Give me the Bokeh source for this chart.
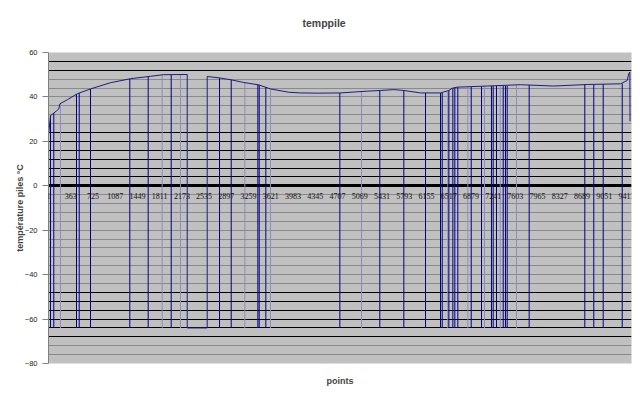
from bokeh.plotting import figure
from bokeh.models import Range1d, FixedTicker, Title, LabelSet, ColumnDataSource
from bokeh.embed import file_html
from bokeh.resources import INLINE

# ---- data ----
# base temperature curve (point index, °C)
curve_pt = [1, 6, 34, 87, 169, 185, 306, 468, 685, 1011, 1336, 1662, 1873, 2260,
            2260, 2585, 2585, 2774, 2976, 3181, 3426, 3616, 3914, 4105, 4377, 4756,
            5191, 5407, 5624, 5787, 6059, 6384, 6520, 6575, 6656, 7145, 7687, 8229,
            8773, 9315, 9424, 9450, 9467, 9470]
curve_temp = [23.0, 24.0, 31.6, 32.7, 34.6, 36.9, 38.7, 41.4, 43.6, 46.4, 48.2, 49.3, 50.0, 50.1,
              -64.0, -64.0, 49.2, 48.6, 47.7, 46.5, 45.4, 43.6, 42.1, 41.8, 41.7, 41.8,
              42.6, 42.9, 43.3, 42.9, 41.8, 41.8, 42.9, 43.9, 44.4, 44.9, 45.5, 44.9,
              45.6, 45.9, 47.4, 50.4, 51.2, 29.0]

# sensor dropouts (point index, value before drop, value reached)
drop_pt = [34, 87, 457, 501, 685, 1325, 1624, 1999, 2786, 2976, 3410, 3432, 3540,
           4745, 5396, 5787, 6140, 6384, 6412, 6520, 6585, 6617, 6666, 6884, 7052,
           7214, 7242, 7296, 7405, 7442, 7470, 7828, 8734, 8880, 9033, 9343]
drop_top = [31.6, 32.7, 41.3, 41.7, 43.6, 48.1, 49.2, 50.0, 48.5, 47.7, 45.5, 45.4, 44.5,
            41.8, 42.9, 42.9, 41.8, 41.8, 41.8, 42.9, 43.9, 44.2, 44.4, 44.6, 44.8,
            44.9, 44.9, 44.9, 45.0, 45.0, 45.0, 45.4, 45.5, 45.6, 45.7, 46.0]
drop_low = [-64.0] * len(drop_pt)

# fainter dropouts
faint_pt = [196, 1852, 2150, 3198, 3616, 5098, 6503, 6829, 7101, 7357, 7621]
faint_top = [37.0, 50.0, 50.1, 46.4, 43.6, 42.4, 42.5, 44.6, 44.8, 45.0, 45.5]
faint_low = [-64.0] * len(faint_pt)

# axes
x_ticks = [1, 363, 725, 1087, 1449, 1811, 2173, 2535, 2897, 3259, 3621, 3983, 4345,
           4707, 5069, 5431, 5793, 6155, 6517, 6879, 7241, 7603, 7965, 8327, 8689,
           9051, 9413]
x_tick_labels = [str(t) for t in x_ticks]
y_ticks = [-80, -60, -40, -20, 0, 20, 40, 60]
grid_levels = list(range(-80, 61, 4))
black_levels = [56, 52, 24, 20, 16, 12, 8, 4, -48, -52, -56, -60, -64, -68]

FONT = "Liberation Sans"

p = figure(frame_width=583, frame_height=311, output_backend="svg", toolbar_location=None,
           x_range=Range1d(1, 9494), y_range=Range1d(-80, 60),
           min_border_left=48, min_border_right=9, min_border_top=52, min_border_bottom=35)

p.background_fill_color = "#C0C0C0"
p.border_fill_color = "white"
p.outline_line_color = None

p.title.text = "temppile\n "
p.title.align = "left"
p.title.offset = 254
p.title.standoff = 24
p.title.text_font = FONT
p.title.text_font_size = "10.5px"
p.title.text_font_style = "bold"

p.add_layout(Title(text="points", align="center", text_font=FONT, standoff=20,
                   text_font_size="9px", text_font_style="bold"), "below")

# grid
p.xgrid.visible = False
p.ygrid.ticker = FixedTicker(ticks=grid_levels)
p.ygrid.grid_line_color = "#8a8a8a"
p.ygrid.grid_line_width = 1

p.hspan(y=black_levels, line_color="black", line_width=1)
p.hspan(y=[0], line_color="black", line_width=3)

# data
p.segment(x0=faint_pt, y0=faint_top, x1=faint_pt, y1=faint_low,
          line_color="#8c8cc4", line_width=1)
p.segment(x0=drop_pt, y0=drop_top, x1=drop_pt, y1=drop_low,
          line_color="#000080", line_width=1)
p.line(curve_pt, curve_temp, line_color="#1c1c84", line_width=1)

# y axis
ya = p.yaxis[0]
ya.ticker = FixedTicker(ticks=y_ticks)
ya.axis_label = "température piles °C"
ya.axis_label_text_font = FONT
ya.axis_label_text_font_size = "9px"
ya.axis_label_text_font_style = "bold"
ya.axis_label_standoff = -3
ya.axis_line_color = "#808080"
ya.major_tick_line_color = "#808080"
ya.major_tick_out = 6
ya.major_tick_in = 0
ya.minor_tick_line_color = None
ya.major_label_text_font = FONT
ya.major_label_text_font_size = "7.5px"
ya.major_label_text_color = "#222222"
ya.major_label_standoff = 5

# x tick labels written along the zero line
p.xaxis.visible = False
tick_src = ColumnDataSource(dict(x=x_ticks, y=[0] * len(x_ticks), text=x_tick_labels))
p.add_layout(LabelSet(x="x", y="y", text="text", source=tick_src, y_offset=-10,
                      text_align="center", text_baseline="middle", text_font=FONT,
                      text_font_size="8px", text_color="#111111"))

open("out.html", "w").write(file_html(p, INLINE))
